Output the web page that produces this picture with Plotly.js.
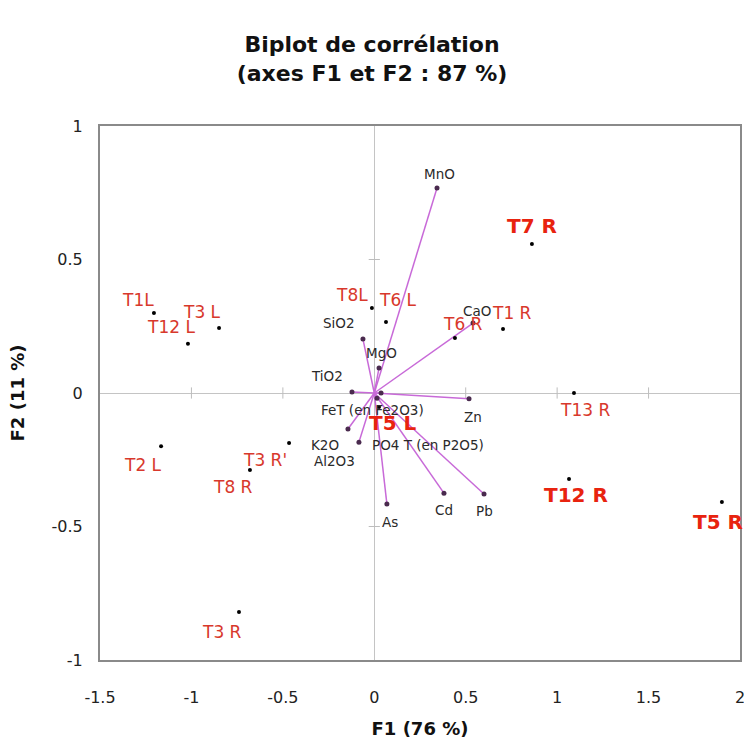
<!DOCTYPE html>
<html>
<head>
<meta charset="utf-8">
<script src="https://cdn.plot.ly/plotly-3.0.1.min.js"></script>
<style>html,body{margin:0;padding:0;background:#fff;}#chart{width:744px;height:746px;}</style>
</head>
<body>
<div id="chart"></div>
<script>
// ---- Data ----
const sampleNames = ["T1L","T12 L","T3 L","T8L","T6 L","T6 R","T1 R","T7 R","T13 R","T12 R","T5 R","T2 L","T3 R'","T8 R","T3 R","T5 L"];
const sampleF1 = [-1.205,-1.019,-0.849,-0.013,0.064,0.441,0.704,0.862,1.092,1.065,1.901,-1.166,-0.466,-0.680,-0.740,0.026];
const sampleF2 = [0.300,0.184,0.243,0.318,0.266,0.206,0.240,0.558,0.000,-0.322,-0.408,-0.199,-0.187,-0.288,-0.820,-0.052];
const sampleBold = [false,false,false,false,false,false,false,true,false,true,true,false,false,false,false,true];

const varNames = ["MnO","CaO","SiO2","MgO","TiO2","FeT (en Fe2O3)","Zn","K2O","Al2O3","PO4 T (en P2O5)","Cd","Pb","As"];
const varF1 = [0.343,0.540,-0.062,0.026,-0.122,0.037,0.518,-0.144,-0.084,0.015,0.381,0.600,0.069];
const varF2 = [0.768,0.262,0.202,0.094,0.004,0.000,-0.022,-0.135,-0.184,-0.020,-0.375,-0.378,-0.416];

const xTicks = [-1.5,-1,-0.5,0,0.5,1,1.5,2];
const yTicks = [-1,-0.5,0,0.5,1];

// ---- Label placement (pixel offsets, layout only) ----
const sampleLabelShift = [[-16,13],[-17,17],[-17,16],[-20,13],[12,22],[8,14],[9,16],[0,18],[11,-17],[7,-16],[-4,-20],[-18,-19],[-24,-17],[-17,-17],[-17,-20],[14,-16]];
const varLabelShift = [[2,14],[4,12],[-24,16],[2,15],[-25,16],[-9,-17],[4,-18],[-23,-16],[-24,-19],[51,-47],[0,-17],[0,-17],[3,-18]];

// vectors from origin
const vx = [], vy = [];
varF1.forEach((v,i)=>{ vx.push(0, v, null); vy.push(0, varF2[i], null); });

const FONT = 'DejaVu Sans, Verdana, sans-serif';
const innerX = xTicks.filter(t => t !== 0 && t > xTicks[0] && t < xTicks[xTicks.length-1]);
const innerY = yTicks.filter(t => t !== 0 && t > yTicks[0] && t < yTicks[yTicks.length-1]);

const traces = [
  // small tick marks on the zero lines
  {x: innerX, y: innerX.map(()=>0), mode: 'markers',
   marker: {symbol: 'line-ns-open', size: 8, color: '#bdbdbd', line: {color: '#bdbdbd', width: 1}}, hoverinfo: 'skip', showlegend: false},
  {x: innerY.map(()=>0), y: innerY, mode: 'markers',
   marker: {symbol: 'line-ew-open', size: 8, color: '#bdbdbd', line: {color: '#bdbdbd', width: 1}}, hoverinfo: 'skip', showlegend: false},
  {x: vx, y: vy, mode: 'lines', line: {color: '#c86ad8', width: 1.5}, hoverinfo: 'skip', showlegend: false},
  {x: varF1, y: varF2, mode: 'markers', marker: {color: '#4a2a4e', size: 5}, text: varNames, showlegend: false},
  {x: sampleF1, y: sampleF2, mode: 'markers', marker: {color: '#000', size: 4}, text: sampleNames, showlegend: false}
];

const annotations = [];
sampleNames.forEach((n,i)=>{
  annotations.push({
    x: sampleF1[i], y: sampleF2[i], xref: 'x', yref: 'y', text: sampleBold[i] ? '<b>'+n+'</b>' : n,
    showarrow: false, xshift: sampleLabelShift[i][0], yshift: sampleLabelShift[i][1],
    font: {family: FONT, size: sampleBold[i] ? 20 : 17, color: sampleBold[i] ? '#e8230f' : '#d8382c'}
  });
});
varNames.forEach((n,i)=>{
  annotations.push({
    x: varF1[i], y: varF2[i], xref: 'x', yref: 'y', text: n,
    showarrow: false, xshift: varLabelShift[i][0], yshift: varLabelShift[i][1],
    font: {family: FONT, size: 13.5, color: '#2a2a2a'}
  });
});

const layout = {
  width: 744, height: 746,
  margin: {l: 100, r: 4, t: 126, b: 86},
  paper_bgcolor: '#fff', plot_bgcolor: '#fff',
  font: {family: FONT, color: '#222'},
  title: {text: '<b>Biplot de corrélation<br>(axes F1 et F2 : 87 %)</b>', x: 0.5, xanchor: 'center', y: 0.93, yanchor: 'top',
          font: {family: FONT, size: 22, color: '#111'}},
  xaxis: {
    range: [-1.5, 2], tickvals: xTicks, ticktext: xTicks.map(String),
    showgrid: false, zeroline: true, zerolinecolor: '#c4c4c4', zerolinewidth: 1,
    showline: true, mirror: true, linecolor: '#8a8a8a', linewidth: 2,
    ticks: '', ticklabelstandoff: 22, ticklabeloverflow: 'allow', tickfont: {size: 16, color: '#222'},
    title: {text: '<b>F1 (76 %)</b>', font: {size: 18, color: '#111'}, standoff: 16}
  },
  yaxis: {
    range: [-1, 1], tickvals: yTicks, ticktext: yTicks.map(String),
    showgrid: false, zeroline: true, zerolinecolor: '#c4c4c4', zerolinewidth: 1,
    showline: true, mirror: true, linecolor: '#8a8a8a', linewidth: 2,
    ticks: '', ticklabelstandoff: 12, tickfont: {size: 16, color: '#222'},
    title: {text: '<b>F2 (11 %)</b>', font: {size: 18, color: '#111'}, standoff: 22}
  },
  annotations: annotations,
  showlegend: false
};

Plotly.newPlot('chart', traces, layout, {displayModeBar: false, staticPlot: true});
</script>
</body>
</html>
